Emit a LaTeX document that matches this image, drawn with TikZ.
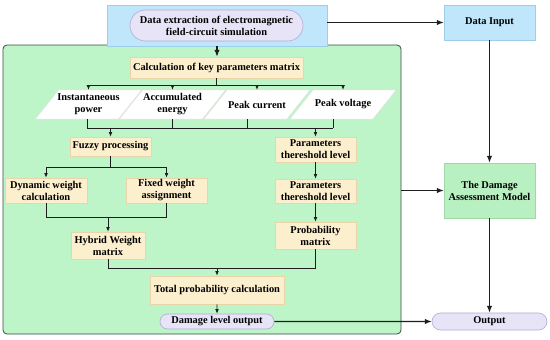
\documentclass[tikz,border=0pt]{standalone}
\usepackage{fontspec}
\setmainfont{Liberation Serif}
\usepackage{tikz}
\usetikzlibrary{arrows.meta,positioning,shapes.misc}
\definecolor{skyfill}{HTML}{BFE6FA}
\definecolor{skyline}{HTML}{9FCFE8}
\definecolor{mintfill}{HTML}{BDF5C8}
\definecolor{mintline}{HTML}{3A4A40}
\definecolor{modelfill}{HTML}{B9F0C2}
\definecolor{modelline}{HTML}{9FD9AA}
\definecolor{creamfill}{HTML}{FCEFCD}
\definecolor{creamline}{HTML}{E8D6AA}
\definecolor{lilacfill}{HTML}{E8E4F8}
\definecolor{lilacline}{HTML}{B2ACD0}
\definecolor{inkline}{HTML}{1E1E1E}

\begin{document}
\begin{tikzpicture}[
  x=1pt,y=-1pt,
  every node/.style={font=\fontsize{10.4}{12}\selectfont\bfseries,align=center,inner sep=0pt},
  block/.style={draw=creamline,fill=creamfill,line width=0.6pt},
  skybox/.style={draw=skyline,fill=skyfill,line width=0.6pt},
  pill/.style={rounded rectangle,draw=lilacline,fill=lilacfill,line width=0.6pt},
  paramshape/.style={draw=black!12,fill=white,line width=0.4pt},
  param/.style={minimum width=83pt,minimum height=29pt},
  link/.style={draw=inkline,line width=0.7pt},
  arrow/.style={draw=inkline,-{Latex[length=1.6mm,width=1.3mm]},line width=0.7pt},
  bigarrow/.style={draw=inkline,-{Latex[length=2.4mm,width=1.9mm]},line width=1.1pt}
]
  \useasboundingbox[fill=white] (0,0) rectangle (550,340);
  \node[draw=mintline,fill=mintfill,rounded corners=4pt,line width=0.8pt,minimum width=398pt,minimum height=289pt] (core) at (202,189.5) {};
  \node[skybox,minimum width=220pt,minimum height=41pt] (extract) at (217,25.5) {};
  \node[pill,minimum width=173pt,minimum height=31pt] (extractpill) at (216.5,25.5) {Data extraction of electromagnetic\\field-circuit simulation};
  \node[block,minimum width=173pt,minimum height=21pt] (calc) at (216.5,67.5) {Calculation of key parameters matrix};
  \foreach \cx in {88.5,172.5,257,343}
    \path[paramshape] (\cx-53,119) -- (\cx-30,90) -- (\cx+53,90) -- (\cx+30,119) -- cycle;
  \node[param] (power) at (88.5,104.5) {Instantaneous\\power};
  \node[param] (accum) at (172.5,104.5) {Accumulated\\energy};
  \node[param] (curr) at (257,104.5) {Peak current};
  \node[param] (volt) at (343,104.5) {Peak voltage};
  \node[block,minimum width=81pt,minimum height=19pt] (fuzzy) at (110.5,146.5) {Fuzzy processing};
  \node[block,minimum width=81pt,minimum height=25pt] (thres1) at (315.5,149.5) {Parameters\\thereshold level};
  \node[block,minimum width=82pt,minimum height=25pt] (dynamic) at (46,190.5) {Dynamic weight\\calculation};
  \node[block,minimum width=81pt,minimum height=25pt] (fixed) at (166.5,190.5) {Fixed weight\\assignment};
  \node[block,minimum width=74pt,minimum height=27pt] (hybrid) at (108,245.5) {Hybrid Weight\\matrix};
  \node[block,minimum width=81pt,minimum height=24pt] (thres2) at (315.5,191) {Parameters\\thereshold level};
  \node[block,minimum width=81pt,minimum height=27pt] (prob) at (315.5,235.5) {Probability\\matrix};
  \node[block,minimum width=134pt,minimum height=28pt] (total) at (217,290) {Total probability calculation};
  \node[pill,minimum width=114pt,minimum height=15pt] (dmgout) at (217,321.5) {Damage level output};
  \node[skybox,minimum width=91pt,minimum height=35pt] (datain) at (489.5,22.5) {Data Input};
  \node[draw=modelline,fill=modelfill,line width=0.6pt,minimum width=91pt,minimum height=55pt] (model) at (489.5,190.5) {The Damage\\Assessment Model};
  \node[pill,minimum width=115pt,minimum height=17pt] (output) at (489.5,321.5) {Output};

  \draw[bigarrow] (extract.south) -- (extract.south |- calc.north);
  \draw[link] (calc.south) -- ++(0,7) coordinate (fan);
  \draw[link] (fan -| power.north) -- (fan -| volt.north);
  \foreach \p in {power,accum,curr,volt}
    \draw[arrow] (fan -| \p.north) -- (\p.north);
  \coordinate (gather) at (0,128);
  \draw[link] ([xshift=-1.5pt]power.south) -- ([xshift=-1.5pt]power.south |- gather);
  \draw[link] (accum.south) -- (accum.south |- gather);
  \draw[link] ([xshift=-10pt]curr.south) -- ([xshift=-10pt]curr.south |- gather);
  \draw[link] ([xshift=-10pt]volt.south) -- ([xshift=-10pt]volt.south |- gather);
  \draw[link] ([xshift=-1.5pt]power.south |- gather) -- ([xshift=-10pt]volt.south |- gather);
  \draw[arrow] (fuzzy.north |- gather) -- (fuzzy.north);
  \draw[arrow] (thres1.north |- gather) -- (thres1.north);
  \draw[link] (fuzzy.south) -- ++(0,11) coordinate (split);
  \draw[link] (split -| dynamic.north) -- (split -| fixed.north);
  \draw[arrow] (split -| dynamic.north) -- (dynamic.north);
  \draw[arrow] (split -| fixed.north) -- (fixed.north);
  \draw[link] (dynamic.south) -- ++(0,14) coordinate (mergeL) -| (fixed.south);
  \draw[arrow] (mergeL -| hybrid.north) -- (hybrid.north);
  \draw[arrow] (thres1) -- (thres2);
  \draw[arrow] (thres2) -- (prob);
  \draw[link] (hybrid.south) -- ++(0,9) coordinate (mergeB) -| (prob.south);
  \draw[arrow] (mergeB -| total.north) -- (total.north);
  \draw[arrow] (total) -- (dmgout);
  \draw[bigarrow] (extract.east |- datain.west) -- (datain.west);
  \draw[bigarrow] (datain) -- (model);
  \draw[bigarrow] (core.east |- model.west) -- (model.west);
  \draw[bigarrow] (model) -- (output);
  \draw[bigarrow] (dmgout) -- (output);
\end{tikzpicture}
\end{document}
